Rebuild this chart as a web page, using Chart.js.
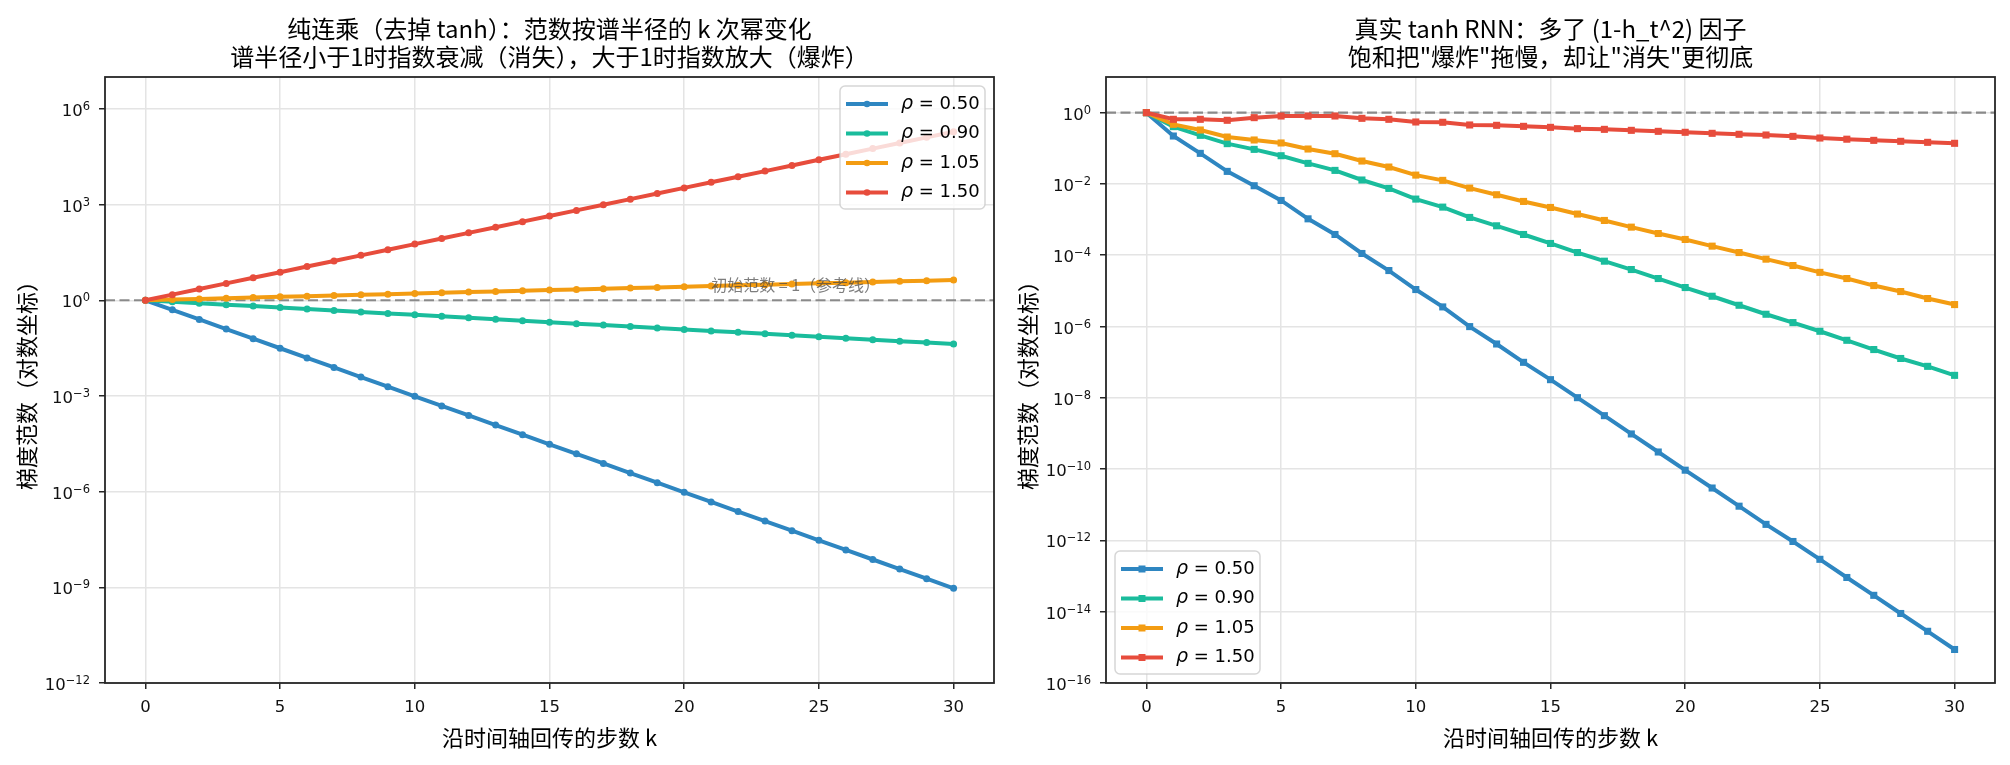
<!DOCTYPE html>
<html>
<head>
<meta charset="utf-8">
<title>梯度范数随回传步数的变化</title>
<script src="https://cdn.jsdelivr.net/npm/chart.js"></script>
<style>
    html, body { margin: 0; padding: 0; background: #fff; }
    #wrap { position: relative; width: 2010px; height: 765px; }
    .panel { position: absolute; top: 0; width: 1005px; height: 765px; }
</style>
</head>
<body>
<div id="wrap">
    <div class="panel" style="left:0"><canvas id="Murni"></canvas></div>
    <div class="panel" style="left:1005px"><canvas id="Tanh"></canvas></div>
</div>
<script>
    // data
    var steps = [0, 1, 2, 3, 4, 5, 6, 7, 8, 9, 10, 11, 12, 13, 14, 15, 16, 17, 18, 19, 20,
                 21, 22, 23, 24, 25, 26, 27, 28, 29, 30];
    var rhoLabels = ['0.50', '0.90', '1.05', '1.50'];

    // left: pure product, no tanh
    var pure050 = [1, 0.5, 0.25, 0.125, 0.0625, 0.0313, 0.0156, 0.00781, 0.00391, 0.00195,
                   9.77e-4, 4.88e-4, 2.44e-4, 1.22e-4, 6.10e-5, 3.05e-5, 1.53e-5, 7.63e-6,
                   3.81e-6, 1.91e-6, 9.54e-7, 4.77e-7, 2.38e-7, 1.19e-7, 5.96e-8, 2.98e-8,
                   1.49e-8, 7.45e-9, 3.73e-9, 1.86e-9, 9.31e-10];
    var pure090 = [1, 0.9, 0.81, 0.729, 0.656, 0.590, 0.531, 0.478, 0.430, 0.387, 0.349,
                   0.314, 0.282, 0.254, 0.229, 0.206, 0.185, 0.167, 0.150, 0.135, 0.122,
                   0.109, 0.0985, 0.0886, 0.0798, 0.0718, 0.0646, 0.0581, 0.0523, 0.0471, 0.0424];
    var pure105 = [1, 1.05, 1.10, 1.16, 1.22, 1.28, 1.34, 1.41, 1.48, 1.55, 1.63, 1.71, 1.80,
                   1.89, 1.98, 2.08, 2.18, 2.29, 2.41, 2.53, 2.65, 2.79, 2.93, 3.07, 3.23,
                   3.39, 3.56, 3.73, 3.92, 4.12, 4.32];
    var pure150 = [1, 1.5, 2.25, 3.38, 5.06, 7.59, 11.4, 17.1, 25.6, 38.4, 57.7, 86.5, 130,
                   195, 292, 438, 657, 985, 1480, 2220, 3330, 4990, 7480, 11200, 16800, 25300,
                   37900, 56800, 85200, 128000, 192000];

    // right: real tanh RNN
    var tanh050 = [1, 2.21e-1, 7.21e-2, 2.25e-2, 8.91e-3, 3.44e-3, 1.05e-3, 3.82e-4, 1.12e-4,
                   3.72e-5, 1.09e-5, 3.55e-6, 9.95e-7, 3.24e-7, 9.91e-8, 3.23e-8, 1.01e-8,
                   3.16e-9, 9.70e-10, 3.02e-10, 9.33e-11, 2.95e-11, 9.12e-12, 2.82e-12,
                   9.33e-13, 2.95e-13, 9.12e-14, 2.88e-14, 8.91e-15, 2.82e-15, 8.71e-16];
    var tanh090 = [1, 4.05e-1, 2.31e-1, 1.35e-1, 9.33e-2, 6.19e-2, 3.78e-2, 2.40e-2, 1.29e-2,
                   7.50e-3, 3.76e-3, 2.24e-3, 1.15e-3, 6.70e-4, 3.82e-4, 2.14e-4, 1.19e-4,
                   6.81e-5, 3.97e-5, 2.22e-5, 1.24e-5, 7.08e-6, 3.95e-6, 2.21e-6, 1.29e-6,
                   7.36e-7, 4.11e-7, 2.26e-7, 1.27e-7, 7.64e-8, 4.27e-8];
    var tanh105 = [1, 4.70e-1, 3.26e-1, 2.07e-1, 1.71e-1, 1.41e-1, 9.55e-2, 7.05e-2, 4.39e-2,
                   2.98e-2, 1.77e-2, 1.26e-2, 7.66e-3, 4.98e-3, 3.23e-3, 2.19e-3, 1.43e-3,
                   9.46e-4, 6.14e-4, 4.07e-4, 2.77e-4, 1.80e-4, 1.19e-4, 7.76e-5, 5.15e-5,
                   3.31e-5, 2.22e-5, 1.41e-5, 9.57e-6, 6.10e-6, 4.13e-6];
    var tanh150 = [1, 0.650, 0.650, 0.610, 0.724, 0.805, 0.805, 0.805, 0.693, 0.650, 0.547,
                   0.537, 0.451, 0.441, 0.413, 0.387, 0.356, 0.340, 0.319, 0.299, 0.281,
                   0.263, 0.247, 0.236, 0.216, 0.194, 0.180, 0.167, 0.157, 0.147, 0.138];

    var xTicks = [0, 5, 10, 15, 20, 25, 30];
    var yTicksPure = [1e-12, 1e-9, 1e-6, 1e-3, 1, 1e3, 1e6];
    var yTicksTanh = [1e-16, 1e-14, 1e-12, 1e-10, 1e-8, 1e-6, 1e-4, 1e-2, 1];
    var refValue = 1;
    var noteX = 21;
    var noteY = 3;

    var warna = ['#2E86C1', '#1ABC9C', '#F39C12', '#E74C3C'];

    function buatData(series, marker, radius) {
        var sets = [];
        for (var j = 0; j < series.length; j++) {
            var pts = [];
            for (var i = 0; i < steps.length; i++) {
                pts.push({ x: steps[i], y: series[j][i] });
            }
            sets.push({
                label: '\u03C1 = ' + rhoLabels[j],
                data: pts,
                borderColor: warna[j],
                backgroundColor: warna[j],
                borderWidth: 4,
                pointStyle: marker,
                pointRadius: radius,
                pointBorderWidth: 0,
                tension: 0,
                order: series.length - j
            });
        }
        return sets;
    }

    // title, axis labels, y tick labels, reference line, note, frame and legend
    var hiasan = {
        id: 'hiasan',
        beforeDatasetsDraw: function (chart) {
            var a = chart.chartArea, ctx = chart.ctx;
            var y = chart.scales.y.getPixelForValue(refValue);
            ctx.save();
            ctx.strokeStyle = 'rgba(128,128,128,0.9)';
            ctx.lineWidth = 2.2;
            ctx.setLineDash([10, 4.5]);
            ctx.beginPath();
            ctx.moveTo(a.left, y);
            ctx.lineTo(a.right, y);
            ctx.stroke();
            ctx.restore();
        },
        afterDatasetsDraw: function (chart, args, opt) {
            var a = chart.chartArea, ctx = chart.ctx;
            ctx.save();
            if (opt.note) {
                ctx.font = '16px "Noto Sans CJK SC"';
                ctx.fillStyle = 'rgba(70,70,70,0.7)';
                ctx.textAlign = 'left';
                ctx.textBaseline = 'middle';
                ctx.fillText(opt.note, chart.scales.x.getPixelForValue(noteX),
                             chart.scales.y.getPixelForValue(noteY));
            }
            ctx.strokeStyle = '#262626';
            ctx.lineWidth = 1.8;
            ctx.strokeRect(a.left, a.top, a.right - a.left, a.bottom - a.top);
            ctx.restore();
        },
        afterDraw: function (chart, args, opt) {
            var a = chart.chartArea, ctx = chart.ctx;
            var cx = (a.left + a.right) / 2;
            ctx.save();

            // y tick labels as 10 with a raised exponent
            var ys = chart.scales.y;
            ctx.fillStyle = '#111';
            ctx.textAlign = 'left';
            ctx.textBaseline = 'alphabetic';
            for (var t = 0; t < opt.yTicks.length; t++) {
                var ty = ys.getPixelForValue(opt.yTicks[t]);
                var ex = String(Math.round(Math.log10(opt.yTicks[t]))).replace('-', '\u2212');
                ctx.font = '11.5px "DejaVu Sans"';
                var ew = ctx.measureText(ex).width;
                ctx.font = '16.5px "DejaVu Sans"';
                var bw = ctx.measureText('10').width;
                var right = a.left - 15;
                ctx.fillText('10', right - ew - bw, ty + 7);
                ctx.font = '11.5px "DejaVu Sans"';
                ctx.fillText(ex, right - ew, ty + 1);
            }

            ctx.fillStyle = '#000';
            ctx.textAlign = 'center';
            ctx.textBaseline = 'middle';
            ctx.font = '24px "Noto Sans CJK SC"';
            ctx.fillText(opt.title[0], cx, 29);
            ctx.fillText(opt.title[1], cx, 57);

            ctx.font = '22px "Noto Sans CJK SC"';
            ctx.fillText('沿时间轴回传的步数 k', cx, a.bottom + 55);
            ctx.save();
            ctx.translate(a.left - 78, (a.top + a.bottom) / 2);
            ctx.rotate(-Math.PI / 2);
            ctx.fillText('梯度范数（对数坐标）', 0, 0);
            ctx.restore();

            // legend
            var w = 145, h = 123;
            var lx = opt.corner === 'ur' ? a.right - 9 - w : a.left + 9;
            var ly = opt.corner === 'ur' ? a.top + 9 : a.bottom - 9 - h;
            ctx.beginPath();
            ctx.roundRect(lx, ly, w, h, 5);
            ctx.fillStyle = 'rgba(255,255,255,0.8)';
            ctx.fill();
            ctx.strokeStyle = 'rgba(204,204,204,0.8)';
            ctx.lineWidth = 1.5;
            ctx.stroke();

            var sets = chart.data.datasets;
            for (var i = 0; i < sets.length; i++) {
                var cy = ly + 18 + i * 29.5;
                ctx.strokeStyle = sets[i].borderColor;
                ctx.fillStyle = sets[i].borderColor;
                ctx.lineWidth = 4;
                ctx.beginPath();
                ctx.moveTo(lx + 6, cy);
                ctx.lineTo(lx + 48, cy);
                ctx.stroke();
                if (opt.marker === 'rect') {
                    ctx.fillRect(lx + 27 - 3.5, cy - 3.5, 7, 7);
                } else {
                    ctx.beginPath();
                    ctx.arc(lx + 27, cy, 3.3, 0, Math.PI * 2);
                    ctx.fill();
                }
                ctx.fillStyle = '#000';
                ctx.textAlign = 'left';
                ctx.font = 'italic 19px "DejaVu Sans"';
                ctx.fillText('\u03C1', lx + 61, cy);
                var rw = ctx.measureText('\u03C1').width;
                ctx.font = '18px "DejaVu Sans"';
                ctx.fillText(' = ' + rhoLabels[i], lx + 61 + rw, cy);
            }
            ctx.restore();
        }
    };

    function buatOpsi(yMin, yMax, yTicks, yWidth, padRight, deco) {
        var tickFont = { family: 'DejaVu Sans', size: 16.5 };
        deco.yTicks = yTicks;
        return {
            responsive: true,
            maintainAspectRatio: false,
            animation: false,
            layout: { padding: { top: 77, right: padRight, left: 0, bottom: 0 } },
            plugins: {
                legend: { display: false },
                tooltip: { enabled: false },
                hiasan: deco
            },
            scales: {
                x: {
                    type: 'linear',
                    min: -1.5,
                    max: 31.5,
                    afterBuildTicks: function (sc) {
                        sc.ticks = xTicks.map(function (v) { return { value: v }; });
                    },
                    afterFit: function (sc) { sc.height = 82; },
                    ticks: { font: tickFont, color: '#111', padding: 9, maxRotation: 0, autoSkip: false },
                    grid: { color: '#e4e4e4', lineWidth: 1.5, tickColor: '#262626', tickLength: 6, tickWidth: 1.5 },
                    border: { display: false }
                },
                y: {
                    type: 'logarithmic',
                    min: yMin,
                    max: yMax,
                    afterBuildTicks: function (sc) {
                        sc.ticks = yTicks.map(function (v) { return { value: v }; });
                    },
                    afterFit: function (sc) { sc.width = yWidth; },
                    ticks: { display: false, autoSkip: false },
                    grid: { color: '#e4e4e4', lineWidth: 1.5, tickColor: '#262626', tickLength: 6, tickWidth: 1.5 },
                    border: { display: false }
                }
            }
        };
    }

    function Murni() {
        new Chart(document.getElementById('Murni'), {
            type: 'line',
            data: { datasets: buatData([pure050, pure090, pure105, pure150], 'circle', 3.5) },
            options: buatOpsi(1e-12, 1e7, yTicksPure, 105, 11, {
                title: ['纯连乘（去掉 tanh）：范数按谱半径的 k 次幂变化',
                        '谱半径小于1时指数衰减（消失），大于1时指数放大（爆炸）'],
                corner: 'ur',
                marker: 'circle',
                note: '初始范数 = 1（参考线）'
            }),
            plugins: [hiasan]
        });
    }

    function Tanh() {
        new Chart(document.getElementById('Tanh'), {
            type: 'line',
            data: { datasets: buatData([tanh050, tanh090, tanh105, tanh150], 'rect', 5) },
            options: buatOpsi(1e-16, 1e1, yTicksTanh, 101, 15, {
                title: ['真实 tanh RNN：多了 (1-h_t^2) 因子',
                        '饱和把"爆炸"拖慢，却让"消失"更彻底'],
                corner: 'll',
                marker: 'rect',
                note: null
            }),
            plugins: [hiasan]
        });
    }

    Murni();
    Tanh();
</script>
</body>
</html>
